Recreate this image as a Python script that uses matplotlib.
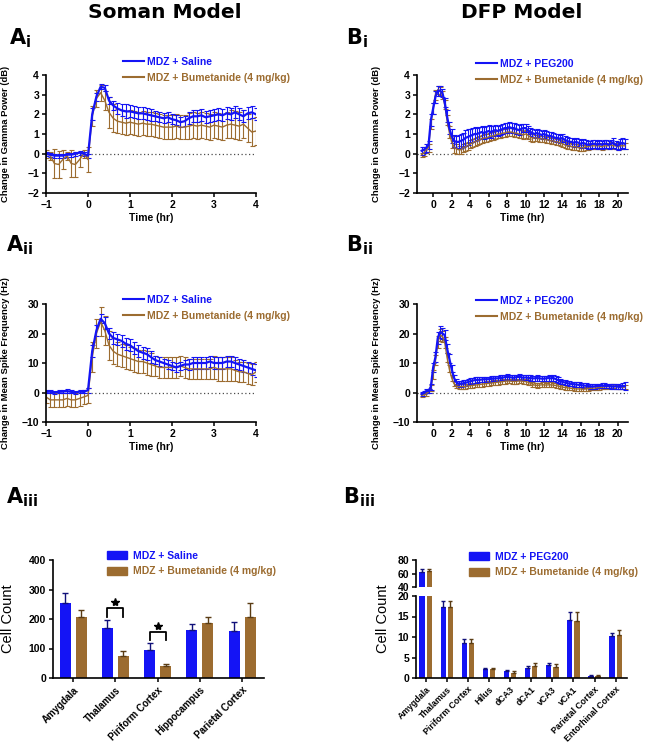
import numpy as np
import matplotlib.pyplot as plt
from matplotlib.lines import Line2D
from matplotlib.patches import Patch

plt.rcParams['font.family'] = ['Liberation Sans', 'DejaVu Sans']
plt.rcParams['font.weight'] = 'bold'
plt.rcParams['axes.labelweight'] = 'bold'

BLUE = '#1414f5'
BROWN = '#9c6c30'

# ---- Soman model, time course (6 min bins, -1 to 4 hr) ----
t_soman = np.round(np.arange(-1.0, 4.01, 0.1), 2)

soman_gamma_sal = [0.0, -0.05, -0.1, -0.1, -0.1, -0.05, -0.05, 0.0, 0.05, 0.0, -0.1,
                   2.0, 2.9, 3.4, 3.35, 2.7, 2.45, 2.3, 2.2, 2.15, 2.15,
                   2.1, 2.05, 2.05, 2.0, 1.95, 1.9, 1.85, 1.8, 1.85, 1.75,
                   1.7, 1.6, 1.65, 1.8, 1.9, 1.9, 1.95, 1.85, 1.9, 1.95,
                   2.0, 1.95, 2.05, 2.0, 2.1, 2.0, 1.9, 2.05, 2.1, 2.0]
soman_gamma_sal_err = [0.1, 0.1, 0.1, 0.1, 0.1, 0.1, 0.1, 0.1, 0.1, 0.1, 0.1,
                       0.3, 0.2, 0.12, 0.15, 0.2, 0.25, 0.3, 0.3, 0.35, 0.3,
                       0.3, 0.3, 0.3, 0.3, 0.3, 0.25, 0.25, 0.25, 0.25, 0.25,
                       0.25, 0.25, 0.25, 0.3, 0.3, 0.3, 0.3, 0.3, 0.3, 0.3,
                       0.3, 0.3, 0.3, 0.3, 0.3, 0.3, 0.3, 0.3, 0.3, 0.3]
soman_gamma_bum = [0.0, -0.1, -0.5, -0.55, -0.3, -0.1, -0.5, -0.55, -0.3, 0.0, -0.3,
                   1.9, 2.8, 3.1, 2.7, 2.1, 1.8, 1.65, 1.6, 1.55, 1.6,
                   1.55, 1.5, 1.55, 1.5, 1.5, 1.45, 1.4, 1.35, 1.35, 1.35,
                   1.4, 1.35, 1.35, 1.4, 1.45, 1.4, 1.45, 1.4, 1.35, 1.45,
                   1.4, 1.35, 1.45, 1.5, 1.45, 1.4, 1.5, 1.3, 1.1, 1.15]
soman_gamma_bum_err = [0.2, 0.2, 0.75, 0.7, 0.5, 0.2, 0.7, 0.65, 0.4, 0.2, 0.65,
                       0.5, 0.45, 0.4, 0.5, 0.8, 0.7, 0.6, 0.6, 0.6, 0.6,
                       0.6, 0.6, 0.6, 0.6, 0.6, 0.6, 0.6, 0.6, 0.6, 0.6,
                       0.6, 0.6, 0.6, 0.65, 0.65, 0.65, 0.65, 0.65, 0.65, 0.65,
                       0.65, 0.65, 0.65, 0.7, 0.7, 0.7, 0.7, 0.7, 0.7, 0.7]

soman_spike_sal = [0.2, 0.3, 0.0, 0.2, 0.3, 0.5, 0.2, 0.0, 0.3, 0.2, 0.8,
                   14.0, 21.0, 25.0, 23.5, 20.0, 18.5, 18.0, 17.5, 16.5, 16.0,
                   15.0, 14.0, 13.5, 13.0, 12.0, 11.0, 10.5, 10.0, 9.5, 9.0,
                   8.5, 9.0, 9.5, 9.5, 10.0, 10.0, 10.0, 10.0, 10.5, 10.0,
                   10.0, 10.0, 10.5, 10.5, 10.0, 9.5, 9.0, 8.5, 8.0, 7.5]
soman_spike_sal_err = [0.5, 0.5, 0.5, 0.5, 0.5, 0.8, 0.5, 0.5, 0.5, 0.5, 0.8,
                       2.0, 2.0, 1.5, 2.0, 2.0, 2.0, 2.0, 2.0, 2.0, 2.0,
                       2.0, 2.0, 2.0, 2.0, 2.0, 1.5, 1.5, 1.5, 1.5, 1.5,
                       1.5, 1.5, 1.5, 1.8, 2.0, 2.0, 2.0, 2.0, 2.0, 2.2,
                       2.0, 2.0, 2.0, 2.0, 2.0, 2.0, 2.0, 2.0, 2.0, 2.2]
soman_spike_bum = [-1.5, -2.5, -2.5, -2.5, -2.5, -2.0, -2.5, -2.5, -2.0, -1.5, -1.0,
                   12.0, 20.0, 24.0, 21.0, 16.0, 14.0, 13.0, 12.5, 12.0, 11.5,
                   11.0, 10.5, 10.5, 10.0, 9.5, 9.0, 8.5, 8.5, 8.5, 8.5,
                   8.5, 9.0, 8.5, 8.0, 8.0, 8.0, 8.0, 8.0, 8.0, 8.5,
                   8.0, 8.0, 8.0, 8.0, 7.5, 7.0, 7.0, 6.5, 6.0, 7.0]
soman_spike_bum_err = [2.0, 2.5, 2.5, 2.5, 2.5, 2.5, 2.5, 2.5, 2.5, 2.5, 2.5,
                       5.0, 5.0, 5.0, 5.0, 5.0, 4.5, 4.0, 4.0, 4.0, 4.0,
                       4.0, 4.0, 4.0, 4.0, 4.0, 3.5, 3.5, 3.5, 3.5, 3.5,
                       3.5, 3.5, 3.5, 3.5, 3.5, 3.5, 3.5, 3.5, 3.5, 4.0,
                       4.0, 4.0, 4.0, 4.0, 3.5, 3.5, 3.5, 3.5, 3.5, 3.5]

# ---- DFP model, time course (15 min bins, -1.25 to 20.75 hr) ----
t_dfp = np.arange(-1.25, 20.76, 0.25)

dfp_gamma_peg = [0.15,
                 0.2, 0.3, 0.45, 1.7,
                 2.3, 2.9, 3.2, 3.2,
                 3.1, 2.6, 1.9, 1.3,
                 0.9, 0.65, 0.6, 0.6,
                 0.65, 0.7, 0.8, 0.85,
                 0.9, 0.95, 1.0, 1.0,
                 1.05, 1.1, 1.05, 1.1,
                 1.15, 1.1, 1.15, 1.2,
                 1.15, 1.2, 1.25, 1.3,
                 1.3, 1.35, 1.3, 1.3,
                 1.25, 1.2, 1.25, 1.3,
                 1.3, 1.2, 1.1, 1.05,
                 1.0, 1.05, 1.0, 0.95,
                 1.0, 0.95, 0.9, 0.9,
                 0.85, 0.8, 0.8, 0.75,
                 0.8, 0.7, 0.65, 0.6,
                 0.6, 0.55, 0.6, 0.55,
                 0.5, 0.55, 0.5, 0.45,
                 0.45, 0.5, 0.5, 0.45,
                 0.5, 0.45, 0.5, 0.5,
                 0.45, 0.5, 0.55, 0.45,
                 0.4, 0.5, 0.55, 0.5]
dfp_gamma_peg_err = [0.2,
                     0.15, 0.2, 0.2, 0.3,
                     0.3, 0.3, 0.25, 0.25,
                     0.2, 0.25, 0.3, 0.3,
                     0.35, 0.3, 0.3, 0.35,
                     0.35, 0.35, 0.4, 0.4,
                     0.35, 0.35, 0.35, 0.3,
                     0.3, 0.3, 0.3, 0.3,
                     0.3, 0.3, 0.25, 0.25,
                     0.25, 0.25, 0.25, 0.25,
                     0.25, 0.25, 0.25, 0.25,
                     0.25, 0.25, 0.25, 0.2,
                     0.2, 0.2, 0.2, 0.2,
                     0.2, 0.2, 0.2, 0.2,
                     0.2, 0.2, 0.2, 0.2,
                     0.2, 0.2, 0.2, 0.2,
                     0.2, 0.2, 0.2, 0.2,
                     0.2, 0.2, 0.2, 0.2,
                     0.2, 0.2, 0.2, 0.2,
                     0.2, 0.2, 0.2, 0.2,
                     0.2, 0.2, 0.2, 0.2,
                     0.2, 0.2, 0.25, 0.2,
                     0.2, 0.25, 0.25, 0.25]
dfp_gamma_bum = [-0.05,
                 0.05, 0.2, 0.3, 1.5,
                 2.3, 3.0, 3.25, 3.2,
                 3.0, 2.5, 1.7, 1.1,
                 0.6, 0.35, 0.25, 0.2,
                 0.2, 0.3, 0.35, 0.4,
                 0.5, 0.55, 0.6, 0.65,
                 0.7, 0.75, 0.8, 0.8,
                 0.85, 0.9, 0.9, 0.95,
                 1.0, 1.0, 1.05, 1.05,
                 1.1, 1.1, 1.1, 1.05,
                 1.05, 1.0, 1.0, 0.95,
                 1.0, 0.95, 0.85, 0.8,
                 0.8, 0.8, 0.75, 0.75,
                 0.75, 0.7, 0.7, 0.65,
                 0.65, 0.6, 0.6, 0.55,
                 0.5, 0.45, 0.4, 0.4,
                 0.35, 0.35, 0.35, 0.3,
                 0.3, 0.3, 0.35, 0.35,
                 0.4, 0.4, 0.4, 0.4,
                 0.4, 0.35, 0.4, 0.4,
                 0.4, 0.45, 0.4, 0.4,
                 0.35, 0.4, 0.4, 0.4]
dfp_gamma_bum_err = [0.1,
                     0.15, 0.15, 0.2, 0.25,
                     0.3, 0.25, 0.2, 0.2,
                     0.2, 0.25, 0.25, 0.3,
                     0.3, 0.3, 0.25, 0.2,
                     0.2, 0.2, 0.2, 0.2,
                     0.2, 0.2, 0.2, 0.2,
                     0.2, 0.2, 0.2, 0.2,
                     0.2, 0.2, 0.2, 0.2,
                     0.2, 0.2, 0.2, 0.2,
                     0.2, 0.2, 0.2, 0.2,
                     0.2, 0.2, 0.2, 0.2,
                     0.2, 0.2, 0.2, 0.2,
                     0.15, 0.15, 0.15, 0.15,
                     0.15, 0.15, 0.15, 0.15,
                     0.15, 0.15, 0.15, 0.15,
                     0.15, 0.15, 0.15, 0.15,
                     0.15, 0.15, 0.15, 0.15,
                     0.15, 0.15, 0.15, 0.15,
                     0.15, 0.15, 0.15, 0.15,
                     0.15, 0.15, 0.15, 0.15,
                     0.15, 0.15, 0.15, 0.15,
                     0.15, 0.15, 0.15, 0.15]

dfp_spike_peg = [-0.5,
                 0.0, 0.5, 0.5, 2.0,
                 8.5, 12.0, 18.5, 20.5,
                 20.0, 19.5, 15.0, 11.5,
                 8.0, 5.0, 3.5, 3.0,
                 3.0, 3.1, 3.3, 3.5,
                 3.8, 4.0, 4.2, 4.3,
                 4.3, 4.4, 4.5, 4.5,
                 4.5, 4.6, 4.7, 4.8,
                 4.8, 4.9, 5.0, 5.2,
                 5.3, 5.2, 5.1, 5.0,
                 5.2, 5.3, 5.2, 5.0,
                 5.1, 5.0, 4.9, 4.8,
                 4.8, 4.9, 4.8, 4.7,
                 4.7, 4.8, 4.9, 4.8,
                 4.9, 4.6, 4.2, 3.8,
                 3.6, 3.4, 3.2, 3.0,
                 2.9, 2.8, 2.7, 2.6,
                 2.5, 2.4, 2.3, 2.2,
                 2.1, 2.0, 2.1, 2.2,
                 2.2, 2.3, 2.3, 2.2,
                 2.2, 2.1, 2.0, 2.1,
                 2.0, 1.9, 2.1, 2.2]
dfp_spike_peg_err = [0.6,
                     0.6, 0.8, 0.8, 1.0,
                     1.5, 1.8, 2.0, 2.0,
                     2.0, 1.8, 1.5, 1.5,
                     1.2, 1.0, 1.0, 1.0,
                     1.0, 1.0, 1.0, 1.0,
                     1.0, 1.0, 1.0, 1.0,
                     0.9, 0.9, 0.9, 0.9,
                     0.9, 0.9, 0.9, 0.9,
                     0.9, 0.9, 0.9, 0.9,
                     0.9, 0.9, 0.9, 0.9,
                     0.9, 0.9, 0.9, 0.9,
                     0.9, 0.9, 0.9, 0.9,
                     0.9, 0.9, 0.9, 0.9,
                     0.9, 0.9, 0.9, 0.9,
                     0.9, 0.9, 0.9, 0.9,
                     0.8, 0.8, 0.8, 0.8,
                     0.8, 0.8, 0.8, 0.8,
                     0.8, 0.8, 0.8, 0.8,
                     0.8, 0.8, 0.8, 0.8,
                     0.8, 0.8, 0.8, 0.8,
                     0.8, 0.8, 0.8, 0.8,
                     0.8, 0.8, 1.0, 1.2]
dfp_spike_bum = [-1.0,
                 -0.8, -0.5, 0.5, 1.5,
                 6.0, 11.0, 17.0, 19.5,
                 19.0, 17.0, 12.0, 8.0,
                 5.0, 3.0, 2.2, 2.0,
                 2.0, 2.0, 2.1, 2.2,
                 2.3, 2.4, 2.5, 2.6,
                 2.7, 2.8, 2.9, 3.0,
                 3.1, 3.2, 3.3, 3.4,
                 3.5, 3.6, 3.7, 3.8,
                 3.9, 3.9, 3.8, 3.8,
                 3.8, 3.9, 3.9, 3.8,
                 3.7, 3.5, 3.2, 2.8,
                 2.5, 2.4, 2.5, 2.6,
                 2.6, 2.5, 2.6, 2.6,
                 2.5, 2.4, 2.2, 2.0,
                 1.8, 1.7, 1.6, 1.5,
                 1.4, 1.3, 1.2, 1.2,
                 1.2, 1.1, 1.2, 1.3,
                 1.4, 1.5, 1.5, 1.6,
                 1.7, 1.8, 1.9, 2.0,
                 2.0, 2.1, 2.1, 2.0,
                 2.0, 1.9, 1.8, 1.8]
dfp_spike_bum_err = [0.5,
                     0.5, 0.6, 0.8, 1.0,
                     1.5, 1.8, 2.0, 2.0,
                     2.0, 1.8, 1.5, 1.2,
                     1.0, 0.8, 0.8, 0.8,
                     0.8, 0.8, 0.8, 0.8,
                     0.8, 0.8, 0.8, 0.8,
                     0.8, 0.8, 0.8, 0.8,
                     0.8, 0.8, 0.8, 0.8,
                     0.8, 0.8, 0.8, 0.8,
                     0.8, 0.8, 0.8, 0.8,
                     0.8, 0.8, 0.8, 0.8,
                     0.8, 0.8, 0.8, 0.8,
                     0.8, 0.8, 0.8, 0.8,
                     0.8, 0.8, 0.8, 0.8,
                     0.8, 0.8, 0.8, 0.8,
                     0.7, 0.7, 0.7, 0.7,
                     0.7, 0.7, 0.7, 0.7,
                     0.7, 0.7, 0.7, 0.7,
                     0.7, 0.7, 0.7, 0.7,
                     0.7, 0.7, 0.7, 0.7,
                     0.7, 0.7, 0.7, 0.7,
                     0.7, 0.7, 0.7, 0.7]

# ---- cell counts ----
soman_regions = ['Amygdala', 'Thalamus', 'Piriform Cortex', 'Hippocampus', 'Parietal Cortex']
soman_cells_sal = [255, 171, 96, 164, 160]
soman_cells_sal_err = [34, 25, 21, 20, 30]
soman_cells_bum = [206, 76, 40, 187, 206]
soman_cells_bum_err = [26, 16, 9, 21, 47]
soman_sig = [1, 2]  # thalamus, piriform cortex

dfp_regions = ['Amygdala', 'Thalamus', 'Piriform Cortex', 'Hilus', 'dCA3', 'dCA1',
               'vCA3', 'vCA1', 'Parietal Cortex', 'Entorhinal Cortex']
dfp_cells_peg = [61.5, 17.4, 8.65, 2.1, 1.6, 2.4, 3.1, 14.1, 0.5, 10.2]
dfp_cells_peg_err = [4.5, 1.4, 0.95, 0.4, 0.3, 0.6, 0.6, 2.1, 0.3, 0.8]
dfp_cells_bum = [63.0, 17.4, 8.6, 2.1, 1.3, 2.9, 2.8, 13.9, 0.4, 10.45]
dfp_cells_bum_err = [4.0, 1.3, 0.8, 0.4, 0.3, 0.8, 0.7, 2.3, 0.3, 1.15]

W, H = 662, 744
fig = plt.figure(figsize=(W / 100, H / 100), dpi=100)


def add_ax(left, top, right, bottom):
    # pixel box -> figure fraction
    ax = fig.add_axes([left / W, 1 - bottom / H, (right - left) / W, (bottom - top) / H])
    for s in ['top', 'right']:
        ax.spines[s].set_visible(False)
    for s in ['left', 'bottom']:
        ax.spines[s].set_linewidth(1.2)
    ax.tick_params(width=1.1, length=3, labelsize=7.5, pad=2)
    return ax


def time_panel(ax, t, blue, blue_err, brown, brown_err):
    ax.axhline(0, color='0.3', ls=(0, (1, 2)), lw=0.9, zorder=0)
    ax.errorbar(t, brown, yerr=brown_err, color=BROWN, lw=1.0, elinewidth=0.8,
                capsize=1.8, capthick=0.8)
    ax.errorbar(t, blue, yerr=blue_err, color=BLUE, lw=1.6, elinewidth=0.8,
                capsize=1.8, capthick=0.8)
    ax.set_xlabel('Time (hr)', fontsize=7.5, labelpad=2)


def line_legend(x, y, labels):
    handles = [Line2D([], [], color=BLUE, lw=1.5), Line2D([], [], color=BROWN, lw=1.5)]
    fig.legend(handles, labels, loc='upper left', bbox_to_anchor=(x / W, 1 - y / H),
               frameon=False, borderpad=0, borderaxespad=0, handlelength=2.0,
               handletextpad=0.35, labelspacing=0.55, labelcolor=[BLUE, BROWN],
               prop={'weight': 'bold', 'size': 7.5})


def bar_legend(x, y, labels):
    handles = [Patch(color=BLUE), Patch(color=BROWN)]
    fig.legend(handles, labels, loc='upper left', bbox_to_anchor=(x / W, 1 - y / H),
               frameon=False, borderpad=0, borderaxespad=0, handlelength=1.9,
               handleheight=0.8, handletextpad=0.6, labelspacing=0.5,
               labelcolor=[BLUE, BROWN], prop={'weight': 'bold', 'size': 7.5})


def panel_label(x, y, letter, sub):
    fig.text(x / W, 1 - y / H, r'$\mathbf{%s}_{\mathbf{%s}}$' % (letter, sub),
             fontsize=15, ha='left', va='baseline')


# titles
fig.text(165 / W, 1 - 13 / H, 'Soman Model', ha='center', va='center', fontsize=14.5,
         weight='bold', family='DejaVu Sans')
fig.text(522 / W, 1 - 13 / H, 'DFP Model', ha='center', va='center', fontsize=14.5,
         weight='bold', family='DejaVu Sans')

# Ai
ax = add_ax(46, 75, 256, 193)
time_panel(ax, t_soman, soman_gamma_sal, soman_gamma_sal_err, soman_gamma_bum, soman_gamma_bum_err)
ax.set_xlim(-1, 4)
ax.set_ylim(-2, 4)
ax.set_xticks(range(-1, 5))
ax.set_yticks(range(-2, 5))
ax.set_ylabel('Change in Gamma Power (dB)', fontsize=6.8)
ax.yaxis.set_label_coords(-0.17, 0.5)
line_legend(123, 57, ['MDZ + Saline', 'MDZ + Bumetanide (4 mg/kg)'])
panel_label(9, 44, 'A', 'i')

# Bi
ax = add_ax(417, 75, 628, 193)
time_panel(ax, t_dfp, dfp_gamma_peg, dfp_gamma_peg_err, dfp_gamma_bum, dfp_gamma_bum_err)
ax.set_xlim(-1.75, 21.1)
ax.set_ylim(-2, 4)
ax.set_xticks(range(0, 21, 2))
ax.set_yticks(range(-2, 5))
ax.set_ylabel('Change in Gamma Power (dB)', fontsize=6.8)
ax.yaxis.set_label_coords(-0.17, 0.5)
line_legend(476, 59, ['MDZ + PEG200', 'MDZ + Bumetanide (4 mg/kg)'])
panel_label(346, 44, 'B', 'i')

# Aii
ax = add_ax(46, 304, 256, 422)
time_panel(ax, t_soman, soman_spike_sal, soman_spike_sal_err, soman_spike_bum, soman_spike_bum_err)
ax.set_xlim(-1, 4)
ax.set_ylim(-10, 30)
ax.set_xticks(range(-1, 5))
ax.set_yticks(range(-10, 31, 10))
ax.set_ylabel('Change in Mean Spike Frequency (Hz)', fontsize=6.8)
ax.yaxis.set_label_coords(-0.17, 0.5)
line_legend(123, 295, ['MDZ + Saline', 'MDZ + Bumetanide (4 mg/kg)'])
panel_label(6, 251, 'A', 'ii')

# Bii
ax = add_ax(417, 304, 628, 422)
time_panel(ax, t_dfp, dfp_spike_peg, dfp_spike_peg_err, dfp_spike_bum, dfp_spike_bum_err)
ax.set_xlim(-1.75, 21.1)
ax.set_ylim(-10, 30)
ax.set_xticks(range(0, 21, 2))
ax.set_yticks(range(-10, 31, 10))
ax.set_ylabel('Change in Mean Spike Frequency (Hz)', fontsize=6.8)
ax.yaxis.set_label_coords(-0.17, 0.5)
line_legend(476, 296, ['MDZ + PEG200', 'MDZ + Bumetanide (4 mg/kg)'])
panel_label(346, 251, 'B', 'ii')


def bars(ax, n, blue, blue_err, brown, brown_err, off, w, cap):
    x = np.arange(n)
    z = np.zeros(n)
    ax.bar(x - off, blue, w, color=BLUE, yerr=[z, blue_err],
           error_kw=dict(ecolor='#10107a', elinewidth=1.0, capsize=cap, capthick=1.0))
    ax.bar(x + off, brown, w, color=BROWN, yerr=[z, brown_err],
           error_kw=dict(ecolor='#5a3c14', elinewidth=1.0, capsize=cap, capthick=1.0))
    return x


# Aiii
ax = add_ax(53, 560, 264, 678)
x = bars(ax, len(soman_regions), soman_cells_sal, soman_cells_sal_err,
         soman_cells_bum, soman_cells_bum_err, 0.19, 0.26, 2.2)
for i in soman_sig:
    top = max(soman_cells_sal[i] + soman_cells_sal_err[i], soman_cells_bum[i] + soman_cells_bum_err[i])
    yb = top + 12
    ax.plot([i - 0.19, i - 0.19, i + 0.19, i + 0.19], [yb, yb + 28, yb + 28, yb],
            color='black', lw=1.3)
    ax.plot([i], [yb + 48], marker='*', color='black', ms=6)
ax.set_xlim(-0.48, 4.52)
ax.set_ylim(0, 400)
ax.set_yticks(range(0, 401, 100))
ax.set_xticks(x)
ax.set_xticklabels(soman_regions, rotation=45, ha='right', rotation_mode='anchor', fontsize=7)
ax.set_ylabel('Cell Count', fontsize=10.5, fontweight='normal')
ax.yaxis.set_label_coords(-0.178, 0.5)
bar_legend(107, 551, ['MDZ + Saline', 'MDZ + Bumetanide (4 mg/kg)'])
panel_label(6, 503, 'A', 'iii')

# Biii - broken y axis
ax_top = add_ax(416, 560, 627, 587)
ax_bot = add_ax(416, 596, 627, 678)
for a in (ax_top, ax_bot):
    x = bars(a, len(dfp_regions), dfp_cells_peg, dfp_cells_peg_err,
             dfp_cells_bum, dfp_cells_bum_err, 0.17, 0.25, 1.5)
    a.set_xlim(-0.46, 9.54)
ax_top.set_ylim(40, 80)
ax_top.set_yticks([40, 60, 80])
ax_top.spines['bottom'].set_visible(False)
ax_top.tick_params(axis='x', bottom=False, labelbottom=False)
ax_bot.set_ylim(0, 20)
ax_bot.set_yticks(range(0, 21, 5))
ax_bot.set_xticks(x)
ax_bot.set_xticklabels(dfp_regions, rotation=45, ha='right', rotation_mode='anchor', fontsize=6.3)
fig.text(383 / W, 1 - 619 / H, 'Cell Count', rotation=90, ha='center', va='center',
         fontsize=10.5, fontweight='normal')
bar_legend(469, 552, ['MDZ + PEG200', 'MDZ + Bumetanide (4 mg/kg)'])
panel_label(343, 503, 'B', 'iii')

fig.savefig('out.png', dpi=100)
